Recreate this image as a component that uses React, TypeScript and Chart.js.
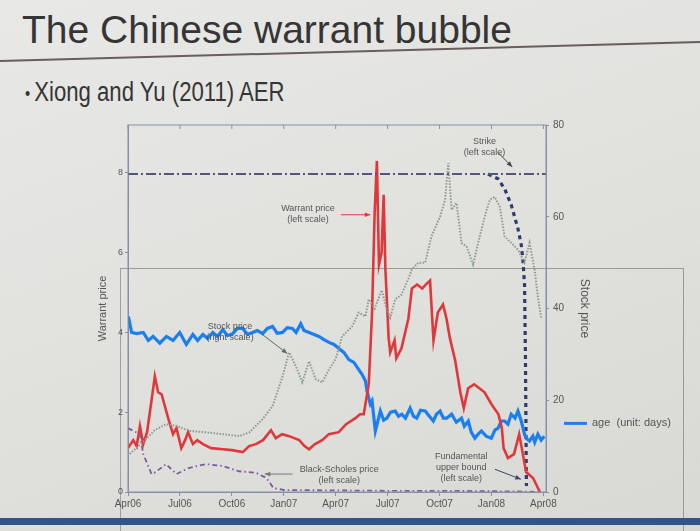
import React, { useEffect, useRef } from "react";
import { Chart, registerables } from "chart.js";

Chart.register(...registerables);

// ---- axis labels ----
const monthTickLabels = ["Apr06", "Jul06", "Oct06", "Jan07", "Apr07", "Jul07", "Oct07", "Jan08", "Apr08"];

// ---- warrant price (left scale), x = months since Apr06 ----
const warrantMonths = [0, 0.3, 0.5, 0.69, 0.88, 1.1, 1.36, 1.55, 1.74, 1.94, 2.1, 2.32, 2.6, 2.8, 3.08, 3.3, 3.47, 3.75, 4.0, 4.33, 4.8, 5.48, 6.0, 6.63, 7.0, 7.39, 7.8, 8.26, 8.54, 8.9, 9.31, 9.6, 9.89, 10.2, 10.46, 10.8, 11.22, 11.6, 12.18, 12.6, 13.14, 13.4, 13.62, 13.91, 14.1, 14.25, 14.38, 14.5, 14.65, 14.77, 14.87, 15.06, 15.15, 15.4, 15.5, 15.8, 16.2, 16.4, 16.7, 17.0, 17.2, 17.45, 17.65, 17.9, 18.2, 18.4, 18.6, 18.9, 19.2, 19.4, 19.65, 20.0, 20.3, 20.6, 21.0, 21.4, 21.6, 21.7, 21.95, 22.3, 22.6, 22.75, 23.0, 23.4, 23.8];
const warrantPrices = [1.1, 1.3, 1.15, 1.65, 1.2, 1.5, 2.3, 2.9, 2.5, 2.45, 2.2, 1.85, 1.45, 1.6, 1.1, 1.3, 1.5, 1.2, 1.3, 1.2, 1.1, 1.07, 1.05, 1.0, 1.15, 1.2, 1.3, 1.55, 1.35, 1.45, 1.4, 1.35, 1.3, 1.15, 1.07, 1.2, 1.3, 1.45, 1.5, 1.7, 1.85, 1.95, 1.95, 2.7, 4.5, 7.0, 8.3, 5.7, 6.0, 7.45, 5.6, 3.85, 3.5, 3.8, 3.35, 3.6, 4.35, 5.1, 5.2, 5.1, 5.2, 5.3, 3.8, 4.5, 4.7, 4.35, 3.85, 3.3, 2.5, 2.1, 2.6, 2.7, 2.6, 2.5, 2.2, 1.95, 1.6, 1.1, 0.85, 0.95, 1.45, 1.1, 0.5, 0.35, 0.0];

// ---- Black-Scholes price (left scale) ----
const bsMonths = [0, 0.69, 0.88, 1.36, 1.6, 2.2, 2.8, 3.5, 4.5, 5.5, 6.4, 7.4, 8.0, 8.4, 9.0, 12, 15, 18, 21, 23, 23.8];
const bsPrices = [1.6, 1.45, 0.95, 0.45, 0.5, 0.7, 0.45, 0.6, 0.7, 0.65, 0.52, 0.48, 0.35, 0.1, 0.05, 0.04, 0.03, 0.03, 0.02, 0.01, 0.0];

// ---- stock price (right scale) ----
const stockMonths = [0.1, 0.88, 1.55, 2.22, 2.8, 3.56, 4.52, 5.48, 6.44, 7.01, 7.78, 8.35, 8.93, 9.31, 9.7, 10.07, 10.46, 10.84, 11.22, 11.61, 12.0, 12.37, 12.95, 13.33, 13.72, 13.91, 14.25, 14.66, 14.94, 15.15, 15.44, 15.8, 16.2, 16.4, 16.78, 17.17, 17.53, 18.03, 18.32, 18.5, 18.7, 18.98, 19.27, 19.56, 19.94, 20.23, 20.61, 20.9, 21.19, 21.48, 21.76, 22.14, 22.53, 22.91, 23.2, 23.49, 23.68, 23.87];
const stockPrices = [8.3, 10.9, 13.5, 14.8, 14.4, 13.3, 13.0, 12.6, 12.2, 13.0, 15.9, 18.7, 25.2, 30.4, 27.4, 23.9, 28.5, 24.6, 23.9, 26.7, 29.0, 33.9, 36.1, 39.1, 38.3, 42.0, 40.0, 44.0, 40.0, 38.0, 42.0, 43.0, 46.5, 48.5, 50.0, 50.0, 55.7, 60.0, 63.7, 71.7, 61.5, 63.0, 54.3, 53.5, 49.6, 54.3, 60.0, 63.7, 64.3, 62.2, 55.7, 54.3, 52.8, 50.0, 54.3, 48.5, 42.6, 38.0];

// ---- strike (left scale) ----
const strikeMonths = [0, 24.15];
const strikeValues = [7.97, 7.97];

// ---- fundamental upper bound (left scale) ----
const boundMonths = [20.8, 21.38, 21.76, 22.14, 22.53, 22.72, 22.82, 22.91, 22.96, 22.99, 23.01, 23.02];
const boundValues = [7.97, 7.85, 7.6, 7.2, 6.6, 6.2, 5.8, 5.2, 3.5, 1.8, 0.5, 0.15];

// ---- age (unit: days), overlaid series ----
const ageMonths = [0.02, 0.21, 0.5, 0.88, 1.17, 1.45, 1.84, 2.22, 2.6, 2.99, 3.37, 3.75, 4.02, 4.33, 4.6, 4.9, 5.17, 5.48, 5.75, 6.05, 6.32, 6.63, 6.9, 7.2, 7.47, 7.78, 8.05, 8.35, 8.62, 8.93, 9.2, 9.5, 9.71, 9.98, 10.17, 10.46, 10.75, 11.03, 11.32, 11.61, 11.9, 12.18, 12.47, 12.76, 13.05, 13.33, 13.52, 13.72, 13.81, 14.0, 14.1, 14.29, 14.58, 14.77, 14.96, 15.17, 15.44, 15.63, 15.82, 16.03, 16.3, 16.49, 16.68, 16.9, 17.17, 17.41, 17.64, 17.82, 18.03, 18.22, 18.41, 18.7, 18.97, 19.27, 19.43, 19.66, 19.83, 20.04, 20.23, 20.42, 20.69, 20.99, 21.2, 21.38, 21.57, 21.76, 21.95, 22.14, 22.36, 22.53, 22.72, 22.91, 23.0, 23.2, 23.39, 23.5, 23.68, 23.87, 24.05];
const ageValues = [4.4, 4.0, 3.97, 4.0, 3.8, 3.9, 3.73, 3.9, 3.8, 4.0, 3.7, 3.95, 3.8, 3.95, 3.85, 4.0, 3.9, 4.07, 3.92, 3.97, 4.1, 4.1, 3.95, 4.0, 4.05, 3.97, 4.1, 4.15, 3.98, 4.0, 4.12, 4.1, 4.0, 4.22, 4.05, 4.0, 3.95, 3.9, 3.82, 3.75, 3.7, 3.6, 3.5, 3.32, 3.25, 3.07, 2.95, 2.78, 2.53, 2.2, 2.28, 1.53, 2.03, 1.8, 1.85, 2.0, 2.03, 1.9, 1.95, 1.85, 2.1, 1.9, 1.85, 2.05, 2.03, 1.9, 1.78, 1.95, 2.03, 1.85, 1.85, 1.95, 1.75, 1.85, 1.65, 1.78, 1.5, 1.35, 1.45, 1.53, 1.4, 1.35, 1.55, 1.6, 1.78, 1.78, 1.7, 1.95, 1.85, 2.03, 1.78, 1.45, 1.35, 1.28, 1.4, 1.25, 1.45, 1.3, 1.4];

// ---- in-chart notes (data coordinates on x / left scale) ----
const noteLines = [["Strike", "(left scale)"], ["Warrant price", "(left scale)"], ["Stock price", "(right scale)"], ["Black-Scholes price", "(left scale)"], ["Fundamental", "upper bound", "(left scale)"]];
const noteX = [20.6, 10.4, 5.9, 12.2, 19.25];
const noteY = [8.78, 7.1, 4.15, 0.57, 0.9];
const arrowFromX = [21.4, 12.3, 7.7, 9.5, 21.2];
const arrowFromY = [8.5, 6.95, 3.97, 0.45, 0.57];
const arrowToX = [22.2, 14.0, 9.2, 7.9, 22.7];
const arrowToY = [8.15, 6.95, 3.47, 0.45, 0.32];
const arrowColors = ["#444444", "#e0383a", "#56705c", "#777777", "#3a4470"];
const ageLegendValue = 1.72;

const pts = (xs: number[], ys: number[]) => xs.map((x, i) => ({ x, y: ys[i] }));

const decorPlugin = {
  id: "decor",
  afterDatasetsDraw(chart: any) {
    const { ctx, chartArea, scales } = chart;
    const xs = scales.x;
    const ys = scales.y;
    ctx.save();
    // frame
    ctx.strokeStyle = "#8890a8";
    ctx.lineWidth = 1;
    ctx.strokeRect(chartArea.left, chartArea.top, chartArea.right - chartArea.left, chartArea.bottom - chartArea.top);
    xs.ticks.forEach((t: any) => {
      const px = xs.getPixelForValue(t.value);
      ctx.beginPath();
      ctx.moveTo(px, chartArea.top);
      ctx.lineTo(px, chartArea.top + 4);
      ctx.stroke();
    });
    // notes
    ctx.font = "9px 'Liberation Sans', Arial, sans-serif";
    ctx.fillStyle = "#555";
    ctx.textAlign = "center";
    ctx.textBaseline = "middle";
    noteLines.forEach((lines, i) => {
      const cx = xs.getPixelForValue(noteX[i]);
      const cy = ys.getPixelForValue(noteY[i]);
      lines.forEach((l, j) => ctx.fillText(l, cx, cy + j * 11));
    });
    // arrows
    noteLines.forEach((_, i) => {
      const x1 = xs.getPixelForValue(arrowFromX[i]);
      const y1 = ys.getPixelForValue(arrowFromY[i]);
      const x2 = xs.getPixelForValue(arrowToX[i]);
      const y2 = ys.getPixelForValue(arrowToY[i]);
      ctx.strokeStyle = arrowColors[i];
      ctx.fillStyle = arrowColors[i];
      ctx.lineWidth = 1;
      ctx.beginPath();
      ctx.moveTo(x1, y1);
      ctx.lineTo(x2, y2);
      ctx.stroke();
      const a = Math.atan2(y2 - y1, x2 - x1);
      ctx.beginPath();
      ctx.moveTo(x2, y2);
      ctx.lineTo(x2 - 6 * Math.cos(a - 0.4), y2 - 6 * Math.sin(a - 0.4));
      ctx.lineTo(x2 - 6 * Math.cos(a + 0.4), y2 - 6 * Math.sin(a + 0.4));
      ctx.closePath();
      ctx.fill();
    });
    // legend for the overlaid "age" series
    const ds = chart.data.datasets.find((d: any) => d.id === "age");
    if (ds) {
      const ly = ys.getPixelForValue(ageLegendValue);
      const lx = chartArea.right + 18;
      ctx.strokeStyle = ds.borderColor;
      ctx.lineWidth = 3;
      ctx.beginPath();
      ctx.moveTo(lx, ly);
      ctx.lineTo(lx + 23, ly);
      ctx.stroke();
      ctx.font = "11px 'Liberation Sans', Arial, sans-serif";
      ctx.fillStyle = "#555";
      ctx.textAlign = "left";
      ctx.fillText(ds.label, lx + 28, ly);
    }
    ctx.restore();
  },
};

function WarrantChart() {
  const ref = useRef<HTMLCanvasElement | null>(null);
  useEffect(() => {
    if (!ref.current) return;
    const tickFont = { family: "'Liberation Sans', Arial, sans-serif", size: 10 };
    const chart = new Chart(ref.current, {
      type: "line",
      data: {
        datasets: [
          { id: "strike", label: "Strike (left scale)", data: pts(strikeMonths, strikeValues), borderColor: "#57547e", borderWidth: 2, borderDash: [10, 3, 2, 3], yAxisID: "y" },
          { id: "stock", label: "Stock price (right scale)", data: pts(stockMonths, stockPrices), borderColor: "#8e9b91", borderWidth: 2, borderDash: [1.5, 1.5], yAxisID: "y1" },
          { id: "bs", label: "Black-Scholes price (left scale)", data: pts(bsMonths, bsPrices), borderColor: "#7d5c98", borderWidth: 1.8, borderDash: [5, 3, 1.5, 3], yAxisID: "y" },
          { id: "warrant", label: "Warrant price (left scale)", data: pts(warrantMonths, warrantPrices), borderColor: "#e0383a", borderWidth: 2.6, yAxisID: "y" },
          { id: "age", label: "age  (unit: days)", data: pts(ageMonths, ageValues), borderColor: "#1b7fef", borderWidth: 3.2, yAxisID: "y" },
          { id: "bound", label: "Fundamental upper bound (left scale)", data: pts(boundMonths, boundValues), borderColor: "#2e3a72", borderWidth: 3.2, borderDash: [4, 4], yAxisID: "y" },
        ] as any,
      },
      options: {
        animation: false,
        responsive: false,
        maintainAspectRatio: false,
        elements: { point: { radius: 0 }, line: { tension: 0 } },
        layout: { padding: { left: 6, top: 17, right: 108, bottom: 0 } },
        plugins: { legend: { display: false }, tooltip: { enabled: false } },
        scales: {
          x: {
            type: "linear",
            min: 0,
            max: 24.15,
            afterFit: (a: any) => { a.height = 30; },
            grid: { display: true, drawOnChartArea: false, tickLength: 4, color: "#8890a8" },
            border: { color: "#8890a8" },
            ticks: {
              stepSize: 3,
              includeBounds: false,
              autoSkip: false,
              maxRotation: 0,
              color: "#555",
              font: tickFont,
              padding: 2,
              callback: (v: any) => monthTickLabels[Math.round(Number(v) / 3)] ?? "",
            },
          },
          y: {
            position: "left",
            min: 0,
            max: 9.2,
            afterFit: (a: any) => { a.width = 32; },
            grid: { display: true, drawOnChartArea: false, tickLength: 3, color: "#8890a8" },
            border: { color: "#7f8fb5" },
            ticks: { stepSize: 2, includeBounds: false, color: "#555", font: { ...tickFont, size: 9 }, padding: 2 },
            title: { display: true, text: "Warrant price", color: "#555", font: { ...tickFont, size: 11 }, padding: 0 },
          },
          y1: {
            position: "right",
            min: 0,
            max: 80,
            afterFit: (a: any) => { a.width = 46; },
            grid: { display: true, drawOnChartArea: false, tickLength: 3, color: "#8890a8" },
            border: { color: "#8890a8" },
            ticks: { stepSize: 20, includeBounds: false, color: "#555", font: tickFont, padding: 4 },
            title: { display: true, text: "Stock price", color: "#555", font: { ...tickFont, size: 12 }, padding: 0 },
          },
        },
      } as any,
      plugins: [decorPlugin],
    });
    return () => chart.destroy();
  }, []);
  return <canvas ref={ref} width={610} height={414} style={{ position: "absolute", left: 90, top: 108, width: 610, height: 414 }} />;
}

export default function App() {
  return (
    <div
      style={{
        position: "absolute",
        left: 0,
        top: 0,
        width: 700,
        height: 531,
        overflow: "hidden",
        background: "linear-gradient(160deg, #e8e8e6 0%, #e0e0dd 55%, #d8d8d5 100%)",
        fontFamily: "'Liberation Sans', Arial, sans-serif",
      }}
    >
      <div style={{ position: "absolute", left: 22, top: 8, fontSize: 39, lineHeight: "44px", color: "#353535", whiteSpace: "nowrap" }}>
        The Chinese warrant bubble
      </div>
      <div style={{ position: "absolute", left: 0, top: 60, width: 710, height: 2, background: "#6a5d5d", transform: "rotate(-1.55deg)", transformOrigin: "0 0" }} />
      <div style={{ position: "absolute", left: 25, top: 75, fontSize: 27, lineHeight: "34px", color: "#353535", whiteSpace: "nowrap", transform: "scaleX(0.82)", transformOrigin: "0 0" }}>
        <span style={{ fontSize: 18, verticalAlign: "middle", marginRight: 5 }}>•</span>Xiong and Yu (2011) AER
      </div>
      <div style={{ position: "absolute", left: 120, top: 268, width: 562, height: 270, borderTop: "1px solid #9a9a9a", borderLeft: "1px solid #a0a0a0", borderRight: "1px solid #9a9a9a" }} />
      <div style={{ position: "absolute", left: 0, top: 518, width: 700, height: 7, background: "#2f5687" }} />
      <WarrantChart />
    </div>
  );
}
